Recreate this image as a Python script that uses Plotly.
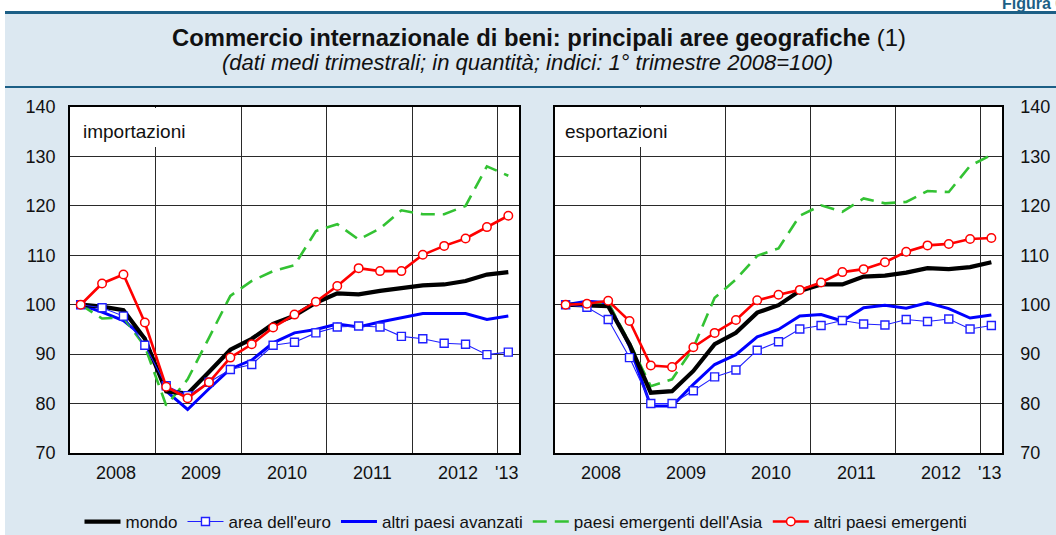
import plotly.graph_objects as go

W, H = 1056, 535

# ---------------- data ----------------
quarters = ["2008Q1", "2008Q2", "2008Q3", "2008Q4",
            "2009Q1", "2009Q2", "2009Q3", "2009Q4",
            "2010Q1", "2010Q2", "2010Q3", "2010Q4",
            "2011Q1", "2011Q2", "2011Q3", "2011Q4",
            "2012Q1", "2012Q2", "2012Q3", "2012Q4",
            "2013Q1"]
year_labels = ["2008", "2009", "2010", "2011", "2012", "'13"]
year_centers = [1.5, 5.5, 9.5, 13.5, 17.5, 20]
year_bounds = [3.5, 7.5, 11.5, 15.5, 19.5]
quarter_bounds = [q + 0.5 for q in range(20)]
y_ticks = [70, 80, 90, 100, 110, 120, 130, 140]

series_names = ["mondo", "area dell'euro", "altri paesi avanzati",
                "paesi emergenti dell'Asia", "altri paesi emergenti"]

# importazioni
imp_mondo = [100, 99.6, 98.9, 93.1, 82.5, 82.0, 86.4, 90.9, 93.1, 96.1, 97.8,
             100.4, 102.3, 102.1, 102.8, 103.4, 103.9, 104.1, 104.8, 106.1, 106.6]
imp_euro = [100, 99.4, 97.7, 91.8, 83.6, 81.6, 84.3, 86.9, 87.9, 91.8, 92.4,
            94.3, 95.5, 95.7, 95.5, 93.6, 93.1, 92.2, 92.0, 89.9, 90.4]
imp_avanzati = [100, 98.5, 96.8, 93.3, 82.5, 78.8, 83.0, 87.0, 88.8, 92.3, 94.3,
                95.0, 96.1, 95.5, 96.5, 97.4, 98.2, 98.2, 98.2, 97.0, 97.7]
imp_asia = [100, 97.2, 97.4, 91.6, 79.6, 84.9, 93.3, 101.8, 104.8, 106.8, 108.0,
            114.9, 116.3, 113.2, 115.4, 119.1, 118.3, 118.3, 120.0, 128.0, 126.1]
imp_emergenti = [100, 104.3, 106.1, 96.4, 83.4, 81.1, 84.3, 89.3, 92.0, 95.4, 98.0,
                 100.6, 103.8, 107.4, 106.8, 106.8, 110.1, 111.9, 113.4, 115.7, 118.0]

# esportazioni
exp_mondo = [100, 99.9, 99.7, 92.0, 82.2, 82.5, 86.6, 92.0, 94.3, 98.4, 99.9,
             102.8, 104.1, 104.1, 105.7, 105.9, 106.5, 107.4, 107.2, 107.6, 108.6]
exp_euro = [100, 99.5, 97.0, 89.3, 80.0, 80.0, 82.6, 85.4, 86.8, 90.8, 92.5,
            95.1, 95.8, 96.8, 96.1, 95.9, 97.0, 96.6, 97.1, 95.1, 95.8]
exp_avanzati = [100, 100.7, 100.4, 91.6, 79.5, 79.5, 83.9, 87.9, 89.9, 93.5, 95.0,
                97.7, 98.0, 96.7, 99.4, 99.9, 99.3, 100.4, 99.2, 97.3, 97.9]
exp_asia = [100, 100.1, 100.4, 92.3, 83.5, 84.9, 91.3, 101.4, 105.1, 109.9, 111.4,
            118.0, 120.1, 118.8, 121.5, 120.5, 120.8, 123.0, 122.8, 128.1, 130.3]
exp_emergenti = [100, 100.2, 100.8, 96.7, 87.7, 87.4, 91.4, 94.3, 96.9, 100.9, 102.0,
                 103.0, 104.5, 106.6, 107.2, 108.6, 110.7, 112.0, 112.3, 113.3, 113.5]

panel_labels = ["importazioni", "esportazioni"]

# ---------------- styles ----------------
FONT = "Liberation Sans, Arial, sans-serif"
BG = "#dce8f1"
DARK = "#1c5f86"
GRID = "#2a2a2a"

styles = {
    "mondo": dict(mode="lines", line=dict(color="#000000", width=4.2)),
    "area dell'euro": dict(mode="lines+markers", line=dict(color="#1f1fff", width=1.1),
                           marker=dict(symbol="square", size=8, color="white",
                                       line=dict(color="#1f1fff", width=1.4))),
    "altri paesi avanzati": dict(mode="lines", line=dict(color="#0000ff", width=3)),
    "paesi emergenti dell'Asia": dict(mode="lines",
                                      line=dict(color="#33c233", width=2.6, dash="14px,8px")),
    "altri paesi emergenti": dict(mode="lines+markers", line=dict(color="#ff0000", width=2.6),
                                  marker=dict(symbol="circle", size=8.5, color="white",
                                              line=dict(color="#ff0000", width=1.5))),
}
draw_order = ["altri paesi avanzati", "paesi emergenti dell'Asia", "mondo",
              "area dell'euro", "altri paesi emergenti"]

panels = [
    {"mondo": imp_mondo, "area dell'euro": imp_euro, "altri paesi avanzati": imp_avanzati,
     "paesi emergenti dell'Asia": imp_asia, "altri paesi emergenti": imp_emergenti},
    {"mondo": exp_mondo, "area dell'euro": exp_euro, "altri paesi avanzati": exp_avanzati,
     "paesi emergenti dell'Asia": exp_asia, "altri paesi emergenti": exp_emergenti},
]

x_idx = list(range(len(quarters)))

fig = go.Figure()
for p, data in enumerate(panels):
    xa = "x" if p == 0 else "x2"
    ya = "y" if p == 0 else "y2"
    for name in draw_order:
        st = styles[name]
        fig.add_trace(go.Scatter(
            x=x_idx, y=data[name], name=name, xaxis=xa, yaxis=ya,
            showlegend=(p == 0), legendrank=series_names.index(name) + 1,
            customdata=quarters, hovertemplate="%{customdata}: %{y}<extra>" + name + "</extra>",
            **st))


def px(v):
    return v / W


def py(v):
    return 1 - v / H


x_common = dict(
    range=[-0.5, 20.5], tickmode="array", tickvals=year_bounds, showticklabels=False,
    ticks="", showgrid=True, gridcolor=GRID, gridwidth=1, zeroline=False,
    showline=True, mirror=True, linecolor="black", linewidth=1.5, automargin=False,
)
# overlay axes that only carry the quarter tick marks (inside, at the bottom)
x_ticks_only = dict(
    range=[-0.5, 20.5], tickmode="array", tickvals=quarter_bounds, showticklabels=False,
    ticks="inside", ticklen=6, tickwidth=1, tickcolor="black", showgrid=False,
    zeroline=False, showline=False, automargin=False, side="bottom",
)
y_common = dict(
    range=[70, 140], tickmode="array", tickvals=y_ticks, ticks="",
    showgrid=True, gridcolor=GRID, gridwidth=1, zeroline=False,
    showline=True, mirror=True, linecolor="black", linewidth=1.5,
    tickfont=dict(family=FONT, size=18, color="#111"),
    domain=[py(453), py(107)], automargin=False,
)

fig.update_layout(
    width=W, height=H, autosize=False,
    margin=dict(l=0, r=0, t=0, b=0, pad=0, autoexpand=False),
    paper_bgcolor=BG, plot_bgcolor="white",
    font=dict(family=FONT, color="#111"),
    xaxis=dict(domain=[px(70), px(519)], anchor="y", **x_common),
    xaxis2=dict(domain=[px(555), px(1002)], anchor="y2", **x_common),
    xaxis3=dict(overlaying="x", anchor="y", **x_ticks_only),
    xaxis4=dict(overlaying="x2", anchor="y2", **x_ticks_only),
    yaxis=dict(anchor="x", side="left", ticklabelstandoff=9, **y_common),
    yaxis2=dict(anchor="x2", side="right", ticklabelstandoff=13, **y_common),
    legend=dict(orientation="h", x=px(526), xanchor="center", y=py(522), yanchor="middle",
                font=dict(family=FONT, size=17, color="#111"), bgcolor="rgba(0,0,0,0)",
                traceorder="normal", itemwidth=36),
    showlegend=True,
)

shapes = [
    # white strips outside the blue panel
    dict(type="rect", xref="paper", yref="paper", x0=0, x1=1, y0=py(11), y1=1,
         fillcolor="white", line=dict(width=0), layer="below"),
    dict(type="rect", xref="paper", yref="paper", x0=0, x1=px(5), y0=0, y1=1,
         fillcolor="white", line=dict(width=0), layer="below"),
    # header rules
    dict(type="line", xref="paper", yref="paper", x0=px(5), x1=1, y0=py(12.5), y1=py(12.5),
         line=dict(color=DARK, width=3)),
    dict(type="line", xref="paper", yref="paper", x0=px(5), x1=1, y0=py(87), y1=py(87),
         line=dict(color=DARK, width=2)),
    # white boxes behind panel labels (hide grid)
    dict(type="rect", xref="paper", yref="paper", x0=px(71.5), x1=px(196), y0=py(147), y1=py(108),
         fillcolor="white", line=dict(width=0), layer="above"),
    dict(type="rect", xref="paper", yref="paper", x0=px(556.5), x1=px(676), y0=py(147), y1=py(108),
         fillcolor="white", line=dict(width=0), layer="above"),
]
fig.update_layout(shapes=shapes)

ann = [
    dict(text="<b>Figura 6.</b>", xref="paper", yref="paper", x=px(1000), y=1,
         xanchor="left", yanchor="middle", yshift=-3, showarrow=False,
         font=dict(family=FONT, size=16, color=DARK)),
    dict(text="<b>Commercio internazionale di beni: principali aree geografiche</b> (1)",
         xref="paper", yref="paper", x=px(539), y=py(38), xanchor="center", yanchor="middle",
         showarrow=False, font=dict(family=FONT, size=23.8, color="#111")),
    dict(text="<i>(dati medi trimestrali; in quantità; indici: 1° trimestre 2008=100)</i>",
         xref="paper", yref="paper", x=px(527), y=py(62), xanchor="center", yanchor="middle",
         showarrow=False, font=dict(family=FONT, size=22, color="#111")),
]
for p, (xa, xd) in enumerate([("x", px(80.5)), ("x2", px(563))]):
    ann.append(dict(text=panel_labels[p], xref="paper", yref="paper", x=xd, y=py(131),
                    xanchor="left", yanchor="middle", showarrow=False,
                    font=dict(family=FONT, size=19, color="#111")))
    for lbl, c in zip(year_labels, year_centers):
        ann.append(dict(text=lbl, xref=xa, yref="paper", x=c, y=py(473),
                        xanchor="center", yanchor="middle", showarrow=False,
                        xshift=(3 if lbl != "'13" else -2),
                        font=dict(family=FONT, size=18, color="#111")))
fig.update_layout(annotations=ann)

fig.write_html("out.html", config={"displayModeBar": False},
               post_script="document.body.style.margin='0';document.body.style.overflow='hidden';")
